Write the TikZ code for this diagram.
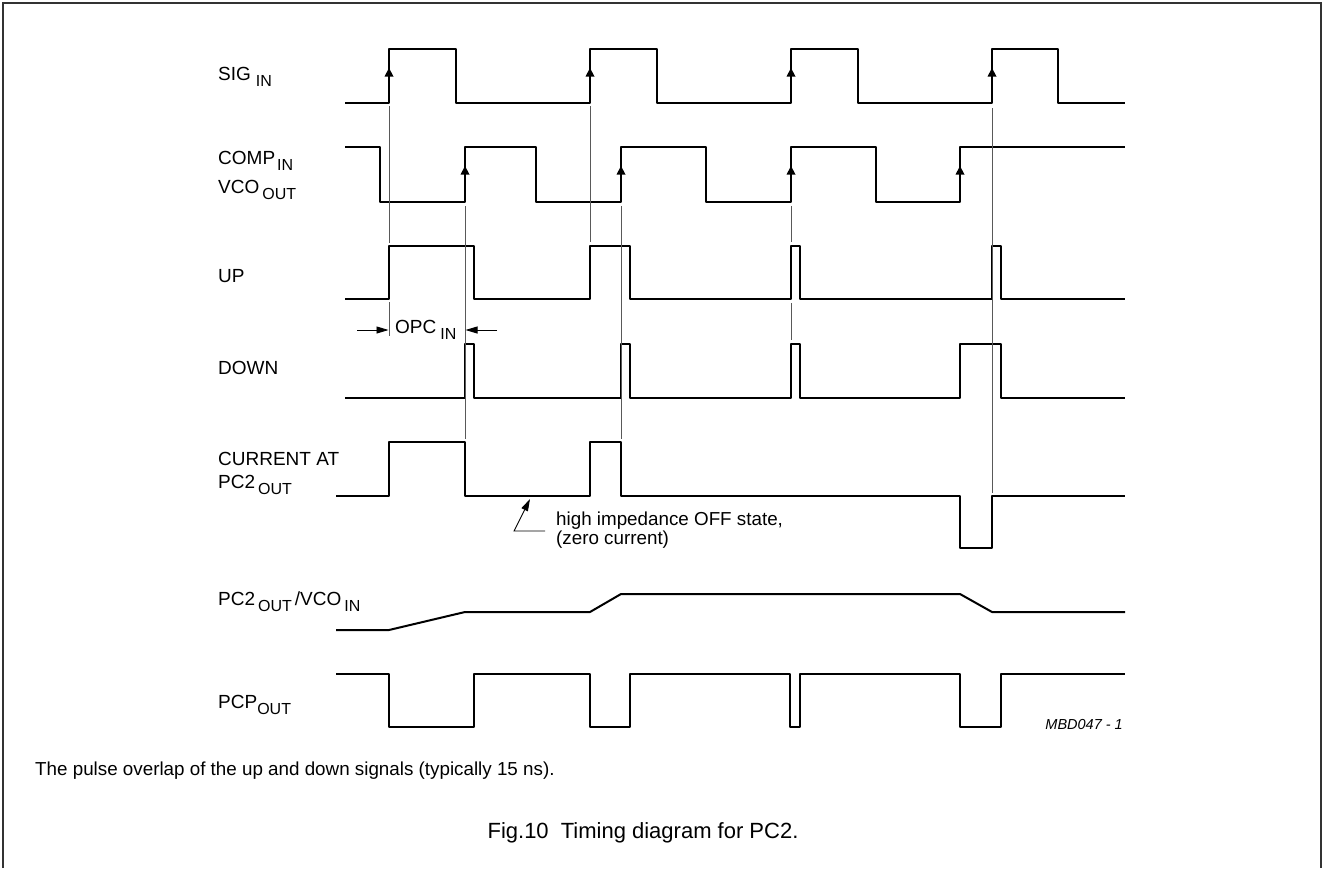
\documentclass[tikz,border=0pt]{standalone}
\usepackage{fontspec}
\setmainfont{Liberation Sans}
\usetikzlibrary{arrows.meta}

\newcommand{\subtxt}[1]{\raisebox{-6pt}{\fontsize{16}{16}\selectfont #1}}

\begin{document}
\begin{tikzpicture}[x=1pt, y=-1pt,
signal/.style={line width=2pt, line join=round},
guide/.style={line width=0.9pt, black!65},
frame/.style={line width=2pt, black!80},
lbl/.style={anchor=base west, inner sep=0pt, font=\fontsize{19}{22}\selectfont},
note/.style={anchor=base west, inner sep=0pt, font=\fontsize{18.8}{21}\selectfont},
tip/.style={-{Triangle[length=12pt, width=7pt]}, line width=0.9pt},
]
\useasboundingbox (0,0) rectangle (1324,868);

% frame, open at the bottom
\draw[frame] (3,868) -- (3,3) -- (1321,3) -- (1321,868);

% \node[lbl](name)at(x,baseline){text}
\node[lbl](sigin) at (218,80) {SIG\hspace{5pt}\subtxt{IN}};
\node[lbl](compin) at (218,164) {COMP\hspace{2pt}\subtxt{IN}};
\node[lbl](vcoout) at (218,193) {VCO\hspace{3pt}\subtxt{OUT}};
\node[lbl](up) at (218,282) {UP};
\node[lbl](down) at (218,374) {DOWN};
\node[lbl](currat) at (218,465) {CURRENT AT};
\node[lbl](pctwo) at (218,488) {PC2\hspace{3pt}\subtxt{OUT}};
\node[lbl](pcvco) at (218,605) {PC2\hspace{3pt}\subtxt{OUT}\hspace{3pt}/VCO\hspace{3pt}\subtxt{IN}};
\node[lbl](pcpout) at (218,708) {PCP\subtxt{OUT}};

% signals
\draw[signal] (345,103) -| (389,49) -| (456,103) -| (590,49) -| (657,103) -| (791,49) -| (858,103) -| (992,49) -| (1058,103) -- (1125,103);
\draw[signal] (345,147) -| (380,202) -| (465,147) -| (536,202) -| (621,147) -| (706,202) -| (791,147) -| (876,202) -| (960,147) -- (1125,147);
\draw[signal] (345,299) -| (389,246) -| (474,299) -| (590,246) -| (630,299) -| (791,246) -| (800,299) -| (992,246) -| (1001,299) -- (1125,299);
\draw[signal] (345,398) -| (465,344) -| (474,398) -| (621,344) -| (630,398) -| (791,344) -| (800,398) -| (960,344) -| (1001,398) -- (1125,398);
\draw[signal] (336,496) -| (389,442) -| (465,496) -| (590,442) -| (621,496) -| (960,548) -| (992,496) -- (1125,496);
\draw[signal] (336,630) -- (389,630) -- (465,612) -- (590,612) -- (621,594) -- (960,594) -- (992,612) -- (1125,612);
\draw[signal] (336,674) -| (389,727) -| (474,674) -| (590,727) -| (630,674) -| (790,727) -| (800,674) -| (960,727) -| (1001,674) -- (1125,674);

% arrows on the rising edges
\foreach \x in {389,590,791,992}
  \fill (\x-4.5,76.5) -- (\x+4.5,76.5) -- (\x,68) -- cycle;
\foreach \x in {465,621,791,960}
  \fill (\x-4.5,174.5) -- (\x+4.5,174.5) -- (\x,166) -- cycle;

% thin guide lines
\draw[guide] (389,106) -- (389,243) (389,302) -- (389,336);
\draw[guide] (465,206) -- (465,439);
\draw[guide] (590,106) -- (590,242);
\draw[guide] (621,206) -- (621,439);
\draw[guide] (791,206) -- (791,242) (791,303) -- (791,340);
\draw[guide] (992,108) -- (992,493);

% overlap OPC
\node[lbl](opc) at (395,333) {OPC\hspace{4pt}\subtxt{IN}};
\coordinate (opcl) at (357,330);
\coordinate (opcr) at (497,330);
\draw[tip] (opcl) -- (388.5,330);
\draw[tip] (opcr) -- (465.5,330);

% off state remark
\node[note](hiz) at (556,525) {high impedance OFF state,};
\node[note](zero) at (556,544) {(zero current)};
\coordinate (hizend) at (545,531);
\draw[tip] (hizend) -- (514,531) -- (530,499);

\node[anchor=base east, inner sep=0pt, font=\fontsize{14.5}{17}\selectfont\itshape](code) at (1123,729) {MBD047 - 1};

% bottom texts
\node[note](remark) at (35,775) {The pulse overlap of the up and down signals (typically 15 ns).};
\node[anchor=base, inner sep=0pt, font=\fontsize{22}{26}\selectfont](caption) at (643,838) {Fig.10\hspace{6pt} Timing diagram for PC2.};

\end{tikzpicture}
\end{document}
